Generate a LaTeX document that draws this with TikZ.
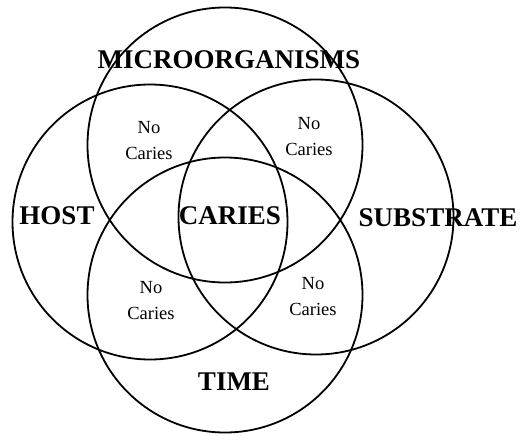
\documentclass[tikz,border=0pt]{standalone}
\usepackage{fontspec}
\setmainfont{Liberation Serif}
\begin{document}
\begin{tikzpicture}[x=1pt,y=-1pt,
  ring/.style={circle,draw=black,line width=1.8pt,minimum size=275pt,inner sep=0pt},
  biglabel/.style={font=\fontsize{27}{30}\selectfont\bfseries,inner sep=0pt},
  nocaries/.style={font=\fontsize{18.5}{26}\selectfont,align=center,inner sep=0pt}]
\useasboundingbox (0,0) rectangle (527,436);
\node[ring] (micro) at (225,145) {};
\node[ring] (host) at (150,222) {};
\node[ring] (subs) at (316,217) {};
\node[ring] (time) at (225,295) {};
\node[biglabel] (lmicro) at (229,60) {MICROORGANISMS};
\node[biglabel] (lhost) at (57,216) {HOST};
\node[biglabel] (lcaries) at (230,216) {CARIES};
\node[biglabel] (lsubs) at (438,218) {SUBSTRATE};
\node[biglabel] (ltime) at (234,382) {TIME};
\node[nocaries] (ntl) at (149,141) {No\\Caries};
\node[nocaries] (ntr) at (309,137) {No\\Caries};
\node[nocaries] (nbl) at (151,301) {No\\Caries};
\node[nocaries] (nbr) at (313,297) {No\\Caries};
\end{tikzpicture}
\end{document}
